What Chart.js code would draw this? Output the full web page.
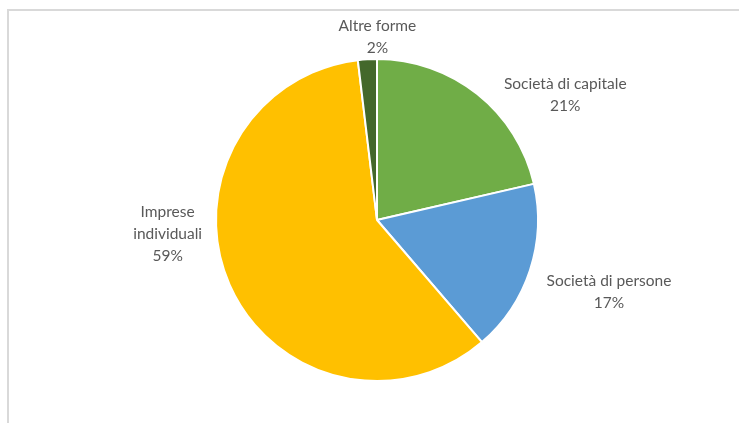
<!DOCTYPE html>
<html lang="it">
<head>
    <meta charset="UTF-8">
    <title>Forme giuridiche</title>
    <script src="https://cdn.jsdelivr.net/npm/chart.js"></script>
    <style>
        html, body { margin: 0; padding: 0; background: #fff; overflow: hidden; }
        .wrap { position: relative; width: 739px; height: 423px; }
        .frame {
            position: absolute; left: 7px; top: 9px; width: 760px; height: 440px;
            border: 2px solid #d9d9d9; box-sizing: border-box;
        }
        canvas { position: absolute; left: 0; top: 0; }
    </style>
</head>
<body>
    <div class="wrap">
        <div class="frame"></div>
        <canvas id="pieChart" width="739" height="423"></canvas>
    </div>

    <script>
        // Data (percent shares)
        const categories = ['Società di capitale', 'Società di persone', 'Imprese individuali', 'Altre forme'];
        const shares = [21.4, 17.3, 59.4, 1.9];
        const sliceColors = ['#70AD47', '#5B9BD5', '#FFC000', '#43682B'];

        // Outside labels, placed relative to the outer edge of each slice
        const outsideLabels = {
            id: 'outsideLabels',
            afterDatasetsDraw(chart, args, opts) {
                const ctx = chart.ctx;
                const meta = chart.getDatasetMeta(0);
                const data = chart.data.datasets[0].data;
                const total = data.reduce((a, b) => a + b, 0);
                ctx.save();
                ctx.font = opts.font;
                ctx.fillStyle = opts.color;
                ctx.textAlign = 'center';
                ctx.textBaseline = 'middle';
                meta.data.forEach((arc, i) => {
                    const mid = (arc.startAngle + arc.endAngle) / 2;
                    const ex = arc.x + Math.cos(mid) * arc.outerRadius;
                    const ey = arc.y + Math.sin(mid) * arc.outerRadius;
                    const off = opts.offsets[i];
                    const name = chart.data.labels[i];
                    const lines = opts.wrap[i] ? name.split(' ') : [name];
                    lines.push(Math.round(data[i] / total * 100) + '%');
                    const cx = ex + off[0];
                    const cy = ey + off[1] - (lines.length - 1) * opts.lineHeight / 2;
                    lines.forEach((t, k) => ctx.fillText(t, cx, cy + k * opts.lineHeight));
                });
                ctx.restore();
            }
        };

        const ctx = document.getElementById('pieChart').getContext('2d');
        new Chart(ctx, {
            type: 'pie',
            data: {
                labels: categories,
                datasets: [{
                    data: shares,
                    backgroundColor: sliceColors,
                    borderColor: '#ffffff',
                    borderWidth: 2
                }]
            },
            options: {
                responsive: false,
                animation: false,
                layout: { padding: { top: 58, bottom: 41, left: 200, right: 185 } },
                plugins: {
                    legend: { display: false },
                    tooltip: { enabled: false },
                    outsideLabels: {
                        font: '15.5px Lato',
                        color: '#595959',
                        lineHeight: 22,
                        offsets: [[88, 1], [79, 22], [-62, -51], [10, -22]],
                        wrap: [false, false, true, false]
                    }
                }
            },
            plugins: [outsideLabels]
        });
    </script>
</body>
</html>
